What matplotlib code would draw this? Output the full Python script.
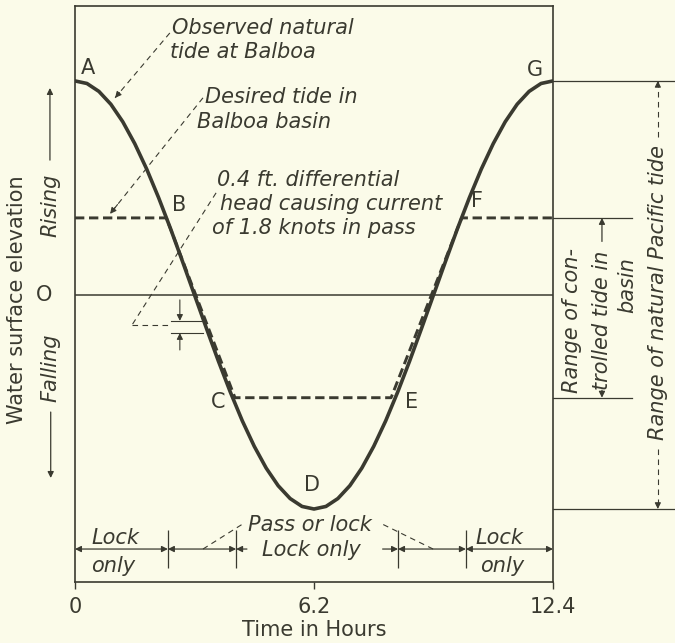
import matplotlib.pyplot as plt
import numpy as np

# natural tide at Balboa, every 0.31 h (1 = high water, -1 = low water)
hours = [0, 0.31, 0.62, 0.93, 1.24, 1.55, 1.86, 2.17, 2.48, 2.79, 3.10,
         3.41, 3.72, 4.03, 4.34, 4.65, 4.96, 5.27, 5.58, 5.89, 6.20,
         6.51, 6.82, 7.13, 7.44, 7.75, 8.06, 8.37, 8.68, 8.99, 9.30,
         9.61, 9.92, 10.23, 10.54, 10.85, 11.16, 11.47, 11.78, 12.09, 12.40]
natural_tide = [1.000, 0.988, 0.951, 0.891, 0.809, 0.707, 0.588, 0.454, 0.309, 0.156, 0.000,
                -0.156, -0.309, -0.454, -0.588, -0.707, -0.809, -0.891, -0.951, -0.988, -1.000,
                -0.988, -0.951, -0.891, -0.809, -0.707, -0.588, -0.454, -0.309, -0.156, 0.000,
                0.156, 0.309, 0.454, 0.588, 0.707, 0.809, 0.891, 0.951, 0.988, 1.000]

# desired tide in Balboa basin (corners B, C, E, F)
desired_hours = [0, 2.37, 4.15, 8.20, 10.03, 12.4]
desired_tide = [0.36, 0.36, -0.48, -0.48, 0.36, 0.36]

# operating periods along the bottom
period_bounds = [0, 2.41, 4.18, 8.38, 10.14, 12.4]

xtick_vals = [0, 6.2, 12.4]
xtick_labels = ['0', '6.2', '12.4']

bg = '#fbfbe9'
ink = '#3a3a30'
fs = 15

fig = plt.figure(figsize=(6.75, 6.43), dpi=100, facecolor=bg)
ax = fig.add_axes([75/675, 61/643, 478/675, 576/643])
ax.set_facecolor(bg)
ax.set_xlim(0, 12.4)
ax.set_ylim(-1.341, 1.350)

for s in ax.spines.values():
    s.set_color(ink)
    s.set_linewidth(1.2)
ax.set_yticks([])
ax.set_xticks(xtick_vals, xtick_labels)
ax.tick_params(axis='x', direction='out', length=5, width=1, pad=6,
               labelsize=fs, colors=ink)
ax.set_xlabel('Time in Hours', fontsize=fs, color=ink, labelpad=2)

# tide curves
ax.axhline(0, lw=1.1, color=ink)
ax.plot(hours, natural_tide, color=ink, lw=2.6, solid_joinstyle='round', zorder=3)
ax.plot(desired_hours, desired_tide, color=ink, lw=2.1, ls=(0, (3.2, 1.6)), zorder=4)

# point letters
letters = {'A': (0.34, 1.06), 'B': (2.70, 0.42), 'C': (3.71, -0.50), 'D': (6.15, -0.89),
           'E': (8.74, -0.50), 'F': (10.43, 0.44), 'G': (11.93, 1.05)}
for k, (x, y) in letters.items():
    ax.text(x, y, k, fontsize=fs, color=ink, ha='center', va='center')

dash = (0, (5, 4))


def arrow(x0, y0, x1, y1, style='-|>', lw=0.9):
    ax.annotate('', xy=(x1, y1), xytext=(x0, y0), annotation_clip=False,
                arrowprops=dict(arrowstyle=style, color=ink, lw=lw, shrinkA=0, shrinkB=0,
                                mutation_scale=9))


def leader(x0, y0, x1, y1, head=True):
    ax.plot([x0, x1], [y0, y1], ls=dash, lw=0.8, color=ink, clip_on=False)
    if head:
        arrow(x1 - (x1 - x0) * 0.08, y1 - (y1 - y0) * 0.08, x1, y1, lw=0.8)


# annotations in the plot
it = dict(fontsize=fs, color=ink, style='italic', va='center', ha='left')
ax.text(2.52, 1.248, 'Observed natural', **it)
ax.text(2.47, 1.136, 'tide at Balboa', **it)
leader(2.46, 1.224, 1.04, 0.921)

ax.text(3.37, 0.925, 'Desired tide in', **it)
ax.text(3.16, 0.808, 'Balboa basin', **it)
leader(3.32, 0.921, 0.91, 0.379)

ax.text(3.68, 0.535, '0.4 ft. differential', **it)
ax.text(3.76, 0.423, 'head causing current', **it)
ax.text(3.55, 0.313, 'of 1.8 knots in pass', **it)
leader(3.66, 0.477, 1.48, -0.140, head=False)
leader(1.48, -0.140, 2.52, -0.140, head=False)
ax.plot([2.49, 3.32], [-0.121, -0.121], lw=0.8, color=ink)
ax.plot([2.49, 3.32], [-0.178, -0.178], lw=0.8, color=ink)
arrow(2.72, -0.023, 2.72, -0.121, lw=0.8)
arrow(2.72, -0.257, 2.72, -0.178, lw=0.8)

# operating periods
yrow = -1.187
ax.vlines(period_bounds[1:-1], -1.276, -1.098, lw=0.9, color=ink)
arrow(period_bounds[0], yrow, period_bounds[1], yrow, style='<|-|>')
arrow(period_bounds[1], yrow, period_bounds[2], yrow, style='<|-|>')
arrow(4.46, yrow, period_bounds[2], yrow)
arrow(7.98, yrow, period_bounds[3], yrow)
arrow(period_bounds[3], yrow, period_bounds[4], yrow, style='<|-|>')
arrow(period_bounds[4], yrow, period_bounds[5], yrow, style='<|-|>')
ax.text(1.06, -1.136, 'Lock', **{**it, 'ha': 'center'})
ax.text(0.98, -1.266, 'only', **{**it, 'ha': 'center'})
ax.text(11.02, -1.136, 'Lock', **{**it, 'ha': 'center'})
ax.text(11.08, -1.266, 'only', **{**it, 'ha': 'center'})
ax.text(6.12, -1.19, 'Lock only', **{**it, 'ha': 'center'})
ax.text(6.10, -1.075, 'Pass or lock', **{**it, 'ha': 'center'})
leader(3.32, yrow, 4.35, -1.07, head=False)
leader(9.29, yrow, 7.91, -1.065, head=False)

# left side labels
ax.text(-1.50, -0.02, 'Water surface elevation', fontsize=fs, color=ink, rotation=90,
        ha='center', va='center', clip_on=False)
ax.text(-0.65, 0.42, 'Rising', rotation=90, clip_on=False, **{**it, 'ha': 'center'})
ax.text(-0.63, -0.34, 'Falling', rotation=90, clip_on=False, **{**it, 'ha': 'center'})
ax.text(-0.80, 0, 'O', fontsize=fs, color=ink, ha='center', va='center')
arrow(-0.65, 0.63, -0.65, 0.967)
arrow(-0.63, -0.547, -0.63, -0.855)

# right side ranges
hi, lo = max(natural_tide), min(natural_tide)
for yv, x1 in [(hi, 15.6), (lo, 15.6), (desired_tide[0], 14.45), (desired_tide[2], 14.45)]:
    ax.plot([12.4, x1], [yv, yv], lw=0.9, color=ink, clip_on=False)

ax.text(15.12, 0.01, 'Range of natural Pacific tide', rotation=90, clip_on=False,
        **{**it, 'ha': 'center'})
leader(15.12, 0.74, 15.12, hi)
leader(15.12, -0.72, 15.12, lo)

ax.text(12.89, -0.458, 'Range of con-', rotation=90, clip_on=False,
        **{**it, 'ha': 'center', 'va': 'bottom'})
ax.text(13.67, -0.445, 'trolled tide in', rotation=90, clip_on=False,
        **{**it, 'ha': 'center', 'va': 'bottom'})
ax.text(14.32, 0.047, 'basin', rotation=90, clip_on=False, **{**it, 'ha': 'center'})
arrow(13.67, 0.25, 13.67, desired_tide[0])
arrow(13.67, -0.445, 13.67, desired_tide[2])

fig.savefig('out.png', dpi=100, facecolor=bg)
